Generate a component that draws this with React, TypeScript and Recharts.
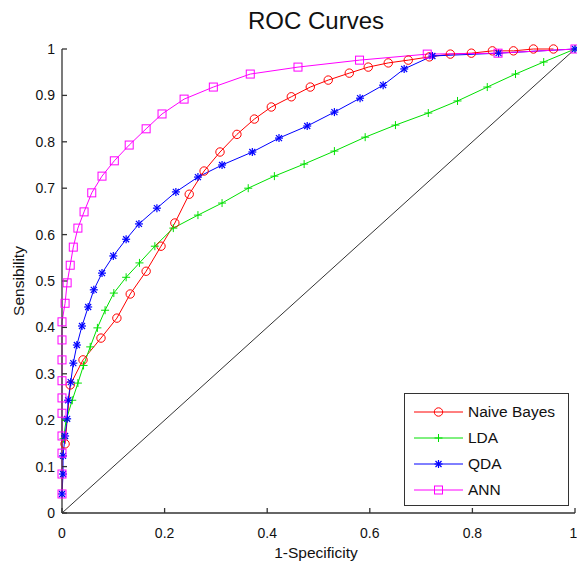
import React from "react";
import { LineChart, Line, XAxis, YAxis, Legend } from "recharts";

const nbX = [0.006, 0.016, 0.041, 0.076, 0.107, 0.133, 0.164, 0.193, 0.22, 0.248, 0.277, 0.308, 0.341, 0.375, 0.408, 0.447, 0.484, 0.519, 0.56, 0.597, 0.636, 0.675, 0.716, 0.757, 0.798, 0.839, 0.88, 0.919, 0.958];
const nbY = [0.149, 0.276, 0.33, 0.377, 0.42, 0.472, 0.521, 0.575, 0.625, 0.687, 0.737, 0.778, 0.816, 0.849, 0.875, 0.897, 0.918, 0.933, 0.948, 0.961, 0.97, 0.976, 0.983, 0.989, 0.991, 0.996, 0.996, 1.0, 1.0];

const ldaX = [0.003, 0.008, 0.02, 0.031, 0.042, 0.055, 0.069, 0.084, 0.101, 0.125, 0.151, 0.181, 0.217, 0.265, 0.312, 0.363, 0.414, 0.472, 0.531, 0.591, 0.65, 0.714, 0.771, 0.829, 0.884, 0.939, 1.0];
const ldaY = [0.16, 0.2, 0.243, 0.28, 0.318, 0.358, 0.399, 0.437, 0.474, 0.508, 0.539, 0.575, 0.614, 0.642, 0.668, 0.7, 0.726, 0.752, 0.78, 0.81, 0.836, 0.862, 0.888, 0.918, 0.946, 0.972, 1.0];

const qdaX = [0, 0.002, 0.002, 0.006, 0.01, 0.012, 0.017, 0.022, 0.029, 0.039, 0.051, 0.062, 0.078, 0.1, 0.125, 0.15, 0.185, 0.222, 0.265, 0.312, 0.371, 0.423, 0.478, 0.531, 0.581, 0.626, 0.667, 0.722, 0.851, 1.0];
const qdaY = [0.041, 0.084, 0.123, 0.166, 0.203, 0.243, 0.282, 0.323, 0.362, 0.403, 0.444, 0.481, 0.517, 0.554, 0.59, 0.623, 0.657, 0.692, 0.724, 0.75, 0.778, 0.808, 0.834, 0.864, 0.894, 0.922, 0.957, 0.985, 0.991, 1.0];

const annX = [0, 0, 0, 0, 0, 0, 0, 0, 0, 0, 0.006, 0.01, 0.016, 0.022, 0.031, 0.043, 0.058, 0.078, 0.102, 0.131, 0.164, 0.195, 0.238, 0.295, 0.367, 0.46, 0.58, 0.712, 0.85, 1.0];
const annY = [0.041, 0.084, 0.129, 0.166, 0.215, 0.248, 0.285, 0.33, 0.373, 0.412, 0.452, 0.496, 0.534, 0.573, 0.614, 0.649, 0.69, 0.726, 0.759, 0.793, 0.828, 0.86, 0.892, 0.918, 0.946, 0.961, 0.976, 0.989, 0.991, 1.0];

const chanceX = [0, 1];
const chanceY = [0, 1];

const xTicks = [0, 0.2, 0.4, 0.6, 0.8, 1];
const yTicks = [0, 0.1, 0.2, 0.3, 0.4, 0.5, 0.6, 0.7, 0.8, 0.9, 1];

const seriesNames = ["Naive Bayes", "LDA", "QDA", "ANN"];
const seriesColors = ["#ff0000", "#00e000", "#0000ff", "#ff00ff"];
const seriesMarkers = ["circle", "plus", "star", "square"];

const zip = (xs: number[], ys: number[]) => xs.map((x, i) => ({ x, y: ys[i] }));

const FONT = "'Liberation Sans', Arial, sans-serif";

function Marker({ type, cx, cy, color }: any) {
  const s = 4;
  if (type === "circle") return <circle cx={cx} cy={cy} r={4.2} fill="none" stroke={color} strokeWidth={1} />;
  if (type === "square") return <rect x={cx - s} y={cy - s} width={2 * s} height={2 * s} fill="none" stroke={color} strokeWidth={1} />;
  if (type === "plus")
    return (
      <g stroke={color} strokeWidth={1}>
        <line x1={cx - s} y1={cy} x2={cx + s} y2={cy} />
        <line x1={cx} y1={cy - s} x2={cx} y2={cy + s} />
      </g>
    );
  const d = s * 0.75;
  return (
    <g stroke={color} strokeWidth={1.2}>
      <line x1={cx - s} y1={cy} x2={cx + s} y2={cy} />
      <line x1={cx} y1={cy - s} x2={cx} y2={cy + s} />
      <line x1={cx - d} y1={cy - d} x2={cx + d} y2={cy + d} />
      <line x1={cx - d} y1={cy + d} x2={cx + d} y2={cy - d} />
    </g>
  );
}

const makeDot = (type: string, color: string) => (props: any) => {
  const { cx, cy, index } = props;
  if (cx == null || cy == null) return <g key={index} />;
  return <g key={index}><Marker type={type} cx={cx} cy={cy} color={color} /></g>;
};

const seriesData = [zip(nbX, nbY), zip(ldaX, ldaY), zip(qdaX, qdaY), zip(annX, annY)];

function LegendBox() {
  return (
    <div style={{ width: 165, height: 113, border: "1px solid #333", background: "#fff", fontFamily: FONT, fontSize: 15.5, color: "#111", boxSizing: "border-box", paddingTop: 5 }}>
      {seriesNames.map((n, i) => (
        <div key={n} style={{ display: "flex", alignItems: "center", height: 26 }}>
          <svg width={54} height={12} style={{ marginLeft: 7, marginRight: 2 }}>
            <line x1={2} y1={6} x2={51} y2={6} stroke={seriesColors[i]} strokeWidth={1} />
            <Marker type={seriesMarkers[i]} cx={26.5} cy={6} color={seriesColors[i]} />
          </svg>
          <span>{n}</span>
        </div>
      ))}
    </div>
  );
}

export default function App() {
  return (
    <div style={{ position: "absolute", left: 0, top: 0, width: 577, height: 562, background: "#fff", overflow: "hidden" }}>
      <div style={{ position: "absolute", left: 116, width: 400, top: 7, textAlign: "center", fontFamily: FONT, fontSize: 24, color: "#111" }}>ROC Curves</div>
      <div style={{ position: "absolute", left: 246, width: 140, top: 544, textAlign: "center", fontFamily: FONT, fontSize: 15.5, color: "#111" }}>1-Specificity</div>
      <LineChart width={577} height={562} margin={{ top: 49, right: 2, bottom: 19, left: 22 }} style={{ fontFamily: FONT }}>
        <XAxis
          type="number"
          dataKey="x"
          domain={[0, 1]}
          ticks={xTicks}
          tickFormatter={(v: number) => String(v)}
          tickSize={-5}
          tickMargin={20}
          height={30}
          stroke="#333"
          strokeWidth={1.3}
          tick={{ fill: "#111", fontSize: 14 }}
        />
        <YAxis
          type="number"
          dataKey="y"
          domain={[0, 1]}
          ticks={yTicks}
          tickFormatter={(v: number) => String(v)}
          tickSize={-5}
          tickMargin={12}
          width={40}
          stroke="#333"
          strokeWidth={1.3}
          tick={{ fill: "#111", fontSize: 14 }}
          label={{ value: "Sensibility", angle: -90, position: "insideLeft", offset: -4, style: { fontSize: 15.5, fill: "#111", textAnchor: "middle" } }}
        />
        <Line data={zip(chanceX, chanceY)} dataKey="y" stroke="#333" strokeWidth={1} dot={false} activeDot={false} isAnimationActive={false} legendType="none" />
        {seriesData.map((d, i) => (
          <Line
            key={seriesNames[i]}
            name={seriesNames[i]}
            data={d}
            dataKey="y"
            stroke={seriesColors[i]}
            strokeWidth={1}
            dot={makeDot(seriesMarkers[i], seriesColors[i])}
            activeDot={false}
            isAnimationActive={false}
          />
        ))}
        <Legend
          layout="horizontal"
          verticalAlign="middle"
          content={() => <LegendBox />}
          wrapperStyle={{ position: "absolute", left: 404, top: 393, width: 165, height: 113 }}
        />
      </LineChart>
    </div>
  );
}
